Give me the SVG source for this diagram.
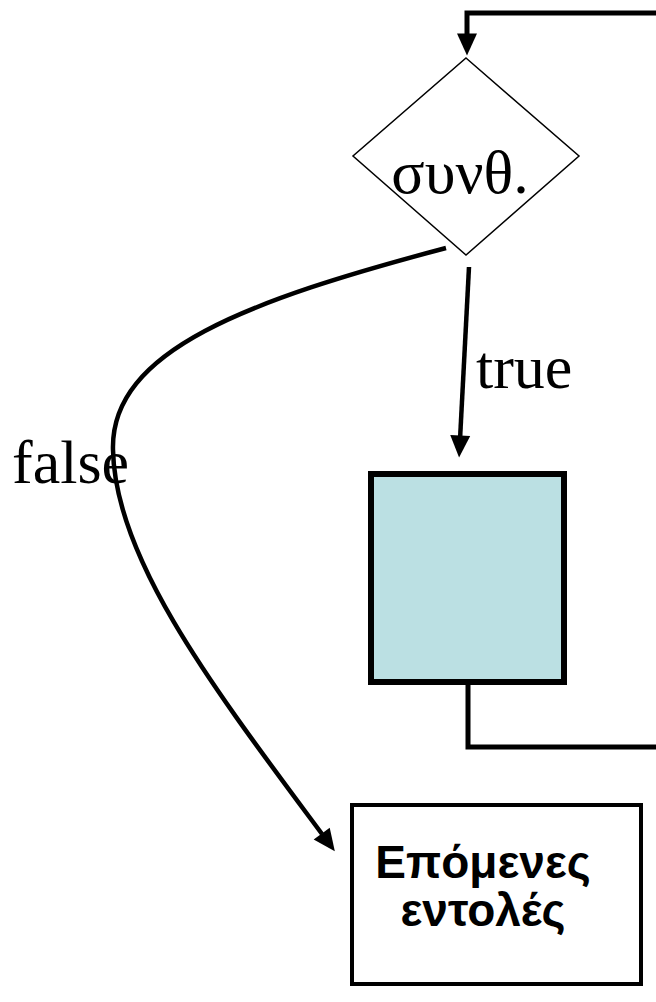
<svg xmlns="http://www.w3.org/2000/svg" width="656" height="1002" viewBox="0 0 656 1002">
  <style>
    .serif { font-family: "Liberation Serif", "Times New Roman", serif; font-size: 62px; fill: #000; }
    .bold { font-family: "Liberation Sans", Arial, sans-serif; font-weight: bold; font-size: 46px; fill: #000; }
    .conn { fill: none; stroke: #000; stroke-width: 4.5; }
    .loop { fill: none; stroke: #000; stroke-width: 5; stroke-linejoin: miter; }
  </style>
  <defs>
    <!-- arrowhead drawn ahead of the line end, so the stroke never pokes past the tip -->
    <marker id="arrow" markerUnits="userSpaceOnUse" markerWidth="22" markerHeight="20" viewBox="0 0 22 20" refX="0.5" refY="10" orient="auto" overflow="visible">
      <path d="M0,0 L22,10 L0,20 Z" fill="#000"/>
    </marker>
  </defs>

  <rect width="656" height="1002" fill="#fff"/>

  <!-- connectors -->
  <g id="connectors">
    <!-- loop back from the body to the condition -->
    <path class="loop" d="M468,685 L468,747 L662,747"/>
    <path class="loop" d="M662,13 L467,13 L467,34" marker-end="url(#arrow)"/>
    <!-- true branch -->
    <path class="conn" d="M469,267 L460.2,436" marker-end="url(#arrow)"/>
    <!-- false branch -->
    <path class="conn" d="M446,248 C250,300 110,350 113,450 C115,560 215,690 322,834" marker-end="url(#arrow)"/>
    <text class="serif" x="12" y="483">false</text>
    <text class="serif" x="476" y="388">true</text>
  </g>

  <!-- condition -->
  <g id="condition">
    <polygon points="466,58 579,156 466,255 353,156" fill="#fff" stroke="#000" stroke-width="1.5"/>
    <text class="serif" x="460" y="193" text-anchor="middle" font-size="64">συνθ.</text>
  </g>

  <!-- loop body -->
  <g id="body">
    <rect x="371" y="474" width="193" height="208" fill="#BBE0E3" stroke="#000" stroke-width="6"/>
  </g>

  <!-- following statements -->
  <g id="next">
    <rect x="352" y="805" width="289" height="179" fill="#fff" stroke="#000" stroke-width="4"/>
    <text class="bold" x="483" y="878" text-anchor="middle">Επόμενες</text>
    <text class="bold" x="483" y="926" text-anchor="middle">εντολές</text>
  </g>
</svg>
